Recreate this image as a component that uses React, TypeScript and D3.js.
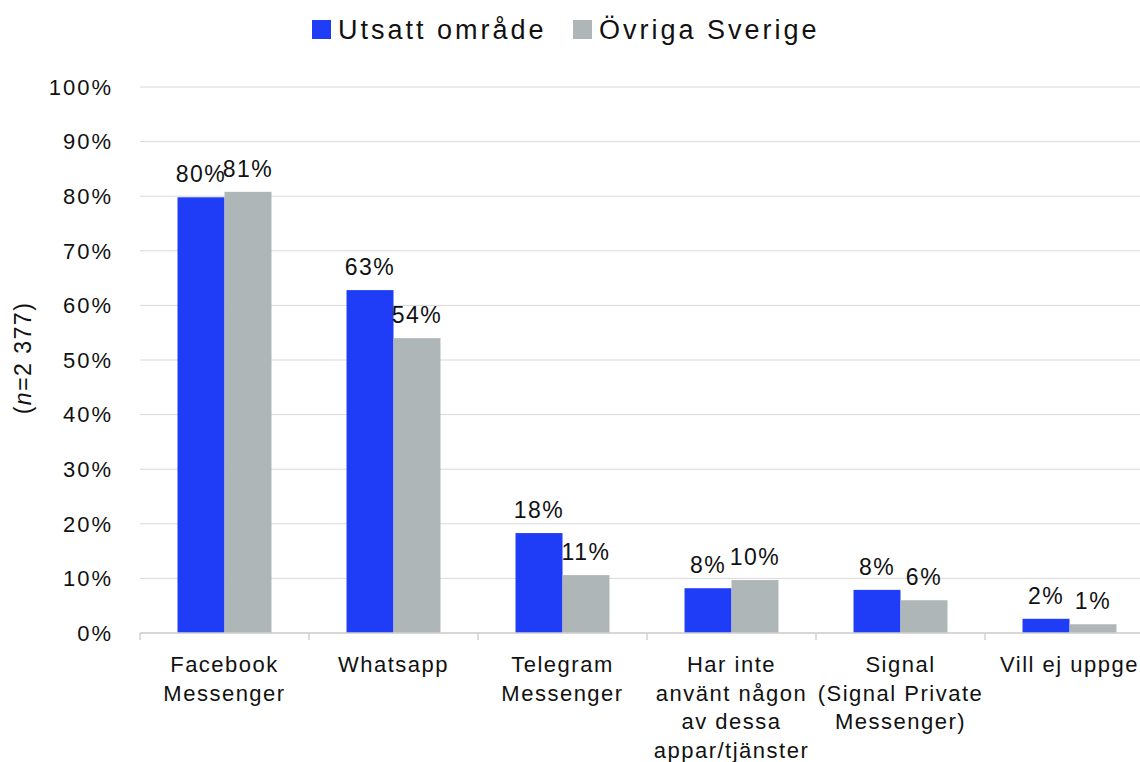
import React from "react";
import * as d3 from "d3";

const categories = [
  "Facebook Messenger",
  "Whatsapp",
  "Telegram Messenger",
  "Har inte använt någon av dessa appar/tjänster",
  "Signal (Signal Private Messenger)",
  "Vill ej uppge",
];
const categoryLines = [
  ["Facebook", "Messenger"],
  ["Whatsapp"],
  ["Telegram", "Messenger"],
  ["Har inte", "använt någon", "av dessa", "appar/tjänster"],
  ["Signal", "(Signal Private", "Messenger)"],
  ["Vill ej uppge"],
];
const seriesNames = ["Utsatt område", "Övriga Sverige"];
const utsatt = [79.8, 62.8, 18.3, 8.2, 7.9, 2.6];
const ovriga = [80.8, 54.0, 10.6, 9.7, 6.0, 1.6];
const utsattLabels = ["80%", "63%", "18%", "8%", "8%", "2%"];
const ovrigaLabels = ["81%", "54%", "11%", "10%", "6%", "1%"];
const yTicks = [0, 10, 20, 30, 40, 50, 60, 70, 80, 90, 100];

const colors = ["#1f3cf6", "#aeb6b7"];
const font = "'Liberation Sans', Arial, sans-serif";

export default function App() {
  const width = 1140;
  const height = 762;
  const left = 140;
  const right = 1154;
  const top = 87;
  const bottom = 633;

  const x0 = d3
    .scaleBand<string>()
    .domain(categories)
    .range([left, right])
    .paddingInner(0.444)
    .paddingOuter(0.222);
  const x1 = d3
    .scaleBand<string>()
    .domain(seriesNames)
    .range([0, x0.bandwidth()]);
  const y = d3.scaleLinear().domain([0, 100]).range([bottom, top]);

  const series = [
    { name: seriesNames[0], values: utsatt, labels: utsattLabels },
    { name: seriesNames[1], values: ovriga, labels: ovrigaLabels },
  ];

  const step = x0.step();

  return (
    <svg
      width={width}
      height={height}
      style={{ position: "fixed", left: 0, top: 0, background: "#fff" }}
      fontFamily={font}
    >
      {/* gridlines */}
      {yTicks.map((t) => (
        <line
          key={"g" + t}
          x1={left}
          x2={width}
          y1={y(t)}
          y2={y(t)}
          stroke="#d9d9d9"
          strokeWidth={1}
        />
      ))}
      {/* y tick labels */}
      {yTicks.map((t) => (
        <text
          key={"t" + t}
          x={113}
          y={y(t)}
          dy="0.35em"
          textAnchor="end"
          fontSize={22}
          letterSpacing={2}
          fill="#111"
        >
          {t + "%"}
        </text>
      ))}
      {/* y title */}
      <text
        transform={`translate(31, 358) rotate(-90)`}
        textAnchor="middle"
        fontSize={23}
        letterSpacing={1.5}
        fill="#111"
      >
        (<tspan fontStyle="italic">n</tspan>=2 377)
      </text>

      {/* bars */}
      {series.map((s, si) =>
        categories.map((c, i) => (
          <rect
            key={s.name + c}
            x={(x0(c) ?? 0) + (x1(s.name) ?? 0)}
            y={y(s.values[i])}
            width={x1.bandwidth()}
            height={bottom - y(s.values[i])}
            fill={colors[si]}
          />
        ))
      )}

      {/* x axis */}
      <line x1={left} x2={width} y1={bottom} y2={bottom} stroke="#d0d0d0" strokeWidth={1.5} />
      {d3.range(categories.length + 1).map((i) => (
        <line
          key={"xt" + i}
          x1={left + i * step}
          x2={left + i * step}
          y1={bottom}
          y2={bottom + 7}
          stroke="#d0d0d0"
          strokeWidth={1.5}
        />
      ))}

      {/* value labels */}
      {series.map((s, si) =>
        categories.map((c, i) => (
          <text
            key={"l" + s.name + c}
            x={(x0(c) ?? 0) + (x1(s.name) ?? 0) + x1.bandwidth() / 2}
            y={y(s.values[i]) - 15}
            textAnchor="middle"
            fontSize={23}
            letterSpacing={1.5}
            fill="#111"
          >
            {s.labels[i]}
          </text>
        ))
      )}

      {/* category labels */}
      {categories.map((c, i) => (
        <text
          key={"c" + c}
          x={(x0(c) ?? 0) + x0.bandwidth() / 2}
          y={672}
          textAnchor="middle"
          fontSize={22}
          letterSpacing={1.5}
          fill="#111"
        >
          {categoryLines[i].map((ln, j) => (
            <tspan key={j} x={(x0(c) ?? 0) + x0.bandwidth() / 2} dy={j === 0 ? 0 : 28.5}>
              {ln}
            </tspan>
          ))}
        </text>
      ))}

      {/* legend */}
      <g>
        <rect x={312} y={20} width={19} height={19} fill={colors[0]} />
        <text x={338} y={39} fontSize={27} letterSpacing={3} fill="#111">
          {seriesNames[0]}
        </text>
        <rect x={573} y={20} width={19} height={19} fill={colors[1]} />
        <text x={599} y={39} fontSize={27} letterSpacing={3} fill="#111">
          {seriesNames[1]}
        </text>
      </g>
    </svg>
  );
}
